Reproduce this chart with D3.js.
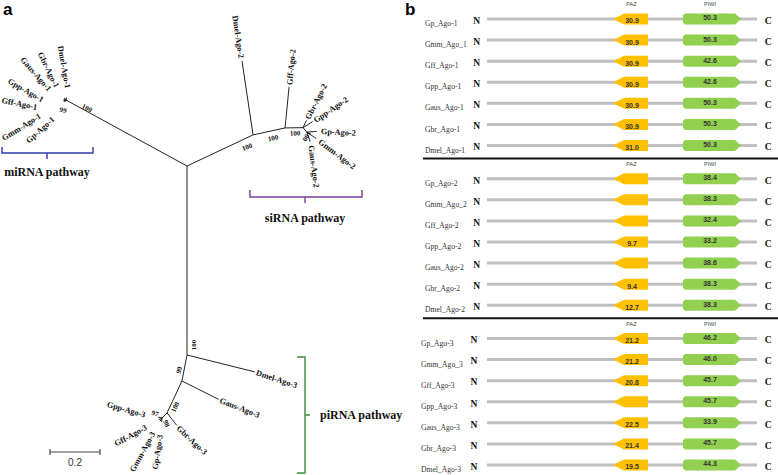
<!DOCTYPE html>
<html>
<head>
<meta charset="utf-8">
<script src="https://cdn.jsdelivr.net/npm/d3@7"></script>
<style>body{margin:0;background:#fff}</style>
</head>
<body>
<div id="fig"></div>
<script>
const W = 778, H = 475;
const serif = "'Liberation Serif', 'DejaVu Serif', serif";
const sans = "'Liberation Sans', Arial, sans-serif";

// ---------- panel a : tree data ----------
// [node, parent, branch length]
const branches = [
  ["mi", "root", 0.551],
  ["Dmel-Ago-1", "mi", 0.01],
  ["Gbr-Ago-1", "mi", 0.01],
  ["Gaus-Ago-1", "mi", 0.01],
  ["Gpp-Ago-1", "mi", 0.01],
  ["Gff-Ago-1", "mi", 0.01],
  ["Gmm-Ago-1", "mi", 0.01],
  ["Gp-Ago-1", "mi", 0.01],
  ["s1", "root", 0.292],
  ["Dmel-Ago-2", "s1", 0.299],
  ["s2", "s1", 0.131],
  ["Gff-Ago-2", "s2", 0.165],
  ["s3", "s2", 0.072],
  ["Gbr-Ago-2", "s3", 0.032],
  ["Gpp-Ago-2", "s3", 0.045],
  ["s4", "s3", 0.024],
  ["Gp-Ago-2", "s4", 0.04],
  ["Gmm-Ago-2", "s4", 0.045],
  ["Gaus-Ago-2", "s4", 0.04],
  ["p1", "root", 0.756],
  ["Dmel-Ago-3", "p1", 0.28],
  ["p2", "p1", 0.106],
  ["Gaus-Ago-3", "p2", 0.164],
  ["p3", "p2", 0.141],
  ["Gbr-Ago-3", "p3", 0.063],
  ["p4", "p3", 0.028],
  ["Gpp-Ago-3", "p4", 0.016],
  ["Gff-Ago-3", "p4", 0.016],
  ["Gmm-Ago-3", "p4", 0.016],
  ["Gp-Ago-3", "p4", 0.016]
];
const bootNodes  = ["mi", "mi", "s1", "s2", "s3", "s4", "p1", "p2", "p3", "p4", "p4"];
const bootValues = [99, 100, 100, 100, 100, 100, 100, 99, 100, 98, 97];
const pathways = ["miRNA pathway", "siRNA pathway", "piRNA pathway"];
const scaleBarValue = 0.2;

// ---------- panel b : domain data ----------
const ago1Names = ["Gp_Ago-1", "Gmm_Ago_1", "Gff_Ago-1", "Gpp_Ago-1", "Gaus_Ago-1", "Gbr_Ago-1", "Dmel_Ago-1"];
const ago1Paz   = [30.9, 30.9, 30.9, 30.9, 30.9, 30.9, 31.0];
const ago1Piwi  = [50.3, 50.3, 42.6, 42.6, 50.3, 50.3, 50.3];
const ago2Names = ["Gp_Ago-2", "Gmm_Ago_2", "Gff_Ago-2", "Gpp_Ago-2", "Gaus_Ago-2", "Gbr_Ago-2", "Dmel_Ago-2"];
const ago2Paz   = [null, null, null, 9.7, null, 9.4, 12.7];
const ago2Piwi  = [38.4, 38.3, 32.4, 33.2, 38.6, 38.3, 38.3];
const ago3Names = ["Gp_Ago-3", "Gmm_Ago_3", "Gff_Ago-3", "Gpp_Ago-3", "Gaus_Ago-3", "Gbr_Ago-3", "Dmel_Ago-3"];
const ago3Paz   = [21.2, 21.2, 20.8, null, 22.5, 21.4, 19.5];
const ago3Piwi  = [46.2, 46.0, 45.7, 45.7, 33.9, 45.7, 44.3];

// ---------- layout ----------
const root = [187, 166];
const angle = {
  mi: 208.6, "Dmel-Ago-1": -80.5, "Gbr-Ago-1": -124.7, "Gaus-Ago-1": -148, "Gpp-Ago-1": 180,
  "Gff-Ago-1": 166.4, "Gmm-Ago-1": 150, "Gp-Ago-1": 125.8,
  s1: -25.2, "Dmel-Ago-2": -98.5, s2: -12.3, "Gff-Ago-2": -84.4, s3: -1,
  "Gbr-Ago-2": -65, "Gpp-Ago-2": -32, s4: 50, "Gp-Ago-2": -5, "Gmm-Ago-2": 34, "Gaus-Ago-2": 71,
  p1: 90, "Dmel-Ago-3": 14, p2: 101, "Gaus-Ago-3": 26.6, p3: 115, "Gbr-Ago-3": 52, p4: 135,
  "Gpp-Ago-3": 190, "Gff-Ago-3": 151, "Gmm-Ago-3": 122, "Gp-Ago-3": 97
};
// leaf label: [gap from tip, text rotation]
const leafLabel = {
  "Dmel-Ago-1": [9.7, 80], "Gbr-Ago-1": [13.3, 64], "Gaus-Ago-1": [16.4, 49], "Gpp-Ago-1": [20.5, 30],
  "Gff-Ago-1": [27.3, 11], "Gmm-Ago-1": [27.5, -32], "Gp-Ago-1": [19.7, -42],
  "Dmel-Ago-2": [3, 81.5], "Gff-Ago-2": [2, -84.4], "Gbr-Ago-2": [2, -63], "Gpp-Ago-2": [2, -34],
  "Gp-Ago-2": [4, 3], "Gmm-Ago-2": [4, 37], "Gaus-Ago-2": [4, 83],
  "Dmel-Ago-3": [1.5, 18], "Gaus-Ago-3": [1.5, 21], "Gbr-Ago-3": [2, 43],
  "Gpp-Ago-3": [13, 16], "Gff-Ago-3": [14, -29], "Gmm-Ago-3": [13, -61], "Gp-Ago-3": [13, -81]
};
const bootPos = [[-3, 10, 10], [21, 8, 28], [-6, 12, -20], [-12, 10, -12], [-8, 5.5, -3], [0, 4, 120],
  [7, -10, -90], [-3, -11, -75], [8, -6, -65], [4.5, 5.5, 65], [-7, -4.5, 20]];

const svg = d3.select("#fig").append("svg")
  .attr("width", W).attr("height", H)
  .style("background-color", "white");

svg.append("text").attr("x", 3).attr("y", 15).text("a")
  .style("font-family", sans).style("font-weight", "bold").style("font-size", "17px");
svg.append("text").attr("x", 405).attr("y", 15).text("b")
  .style("font-family", sans).style("font-weight", "bold").style("font-size", "17px");

// branch length -> px
const bl = d3.scaleLinear().domain([0, 0.2]).range([0, 50]);
const rad = d => d * Math.PI / 180;

const pos = { root: root };
branches.forEach(([n, p, l]) => {
  const a = rad(angle[n]), r = bl(l);
  pos[n] = [pos[p][0] + r * Math.cos(a), pos[p][1] + r * Math.sin(a)];
});
const isLeaf = n => !branches.some(b => b[1] === n);

const tree = svg.append("g");
tree.selectAll("line.branch")
  .data(branches)
  .enter()
  .append("line")
    .attr("x1", d => pos[d[1]][0]).attr("y1", d => pos[d[1]][1])
    .attr("x2", d => pos[d[0]][0]).attr("y2", d => pos[d[0]][1])
    .attr("stroke", "#222").attr("stroke-width", 1);

tree.selectAll("text.leaf")
  .data(branches.filter(b => isLeaf(b[0])))
  .enter()
  .append("text")
    .attr("transform", d => {
      const [g, r] = leafLabel[d[0]], a = rad(angle[d[0]]);
      const x = pos[d[0]][0] + g * Math.cos(a), y = pos[d[0]][1] + g * Math.sin(a);
      return "translate(" + x + "," + y + ") rotate(" + r + ")";
    })
    // flipped labels read toward the tip
    .attr("text-anchor", d => Math.cos(rad(angle[d[0]] - leafLabel[d[0]][1])) < 0 ? "end" : "start")
    .attr("dy", "0.35em")
    .style("font-family", serif).style("font-weight", "bold").style("font-size", "8.3px")
    .style("fill", "#111")
    .text(d => d[0]);

tree.selectAll("text.boot")
  .data(bootValues)
  .enter()
  .append("text")
    .attr("transform", (d, i) => {
      const p = pos[bootNodes[i]], o = bootPos[i];
      return "translate(" + (p[0] + o[0]) + "," + (p[1] + o[1]) + ") rotate(" + o[2] + ")";
    })
    .attr("text-anchor", "middle").attr("dy", "0.35em")
    .style("font-family", serif).style("font-weight", "bold").style("font-size", "7px")
    .style("fill", "#111")
    .text(d => d);

// pathway brackets
const brackets = [
  { c: "#2f3ab0", d: "M2,147V153H93V147M47,153V159", tx: 47, ty: 176, anchor: "middle" },
  { c: "#7a3c9e", d: "M250,190V197H362V190M305,197V203", tx: 305, ty: 222, anchor: "middle" },
  { c: "#3d8b3d", d: "M297,357H305V473H297M305,415H310", tx: 320, ty: 419, anchor: "start" }
];
brackets.forEach((b, i) => {
  svg.append("path").attr("d", b.d).attr("fill", "none")
    .attr("stroke", b.c).attr("stroke-width", 1.4);
  svg.append("text").attr("x", b.tx).attr("y", b.ty).attr("text-anchor", b.anchor)
    .style("font-family", serif).style("font-weight", "bold").style("font-size", "12px")
    .style("fill", "#111").text(pathways[i]);
});

// scale bar
const sb = svg.append("g").attr("stroke", "#444").attr("stroke-width", 1.2);
sb.append("line").attr("x1", 50).attr("x2", 50 + bl(scaleBarValue)).attr("y1", 452).attr("y2", 452);
sb.append("line").attr("x1", 50).attr("x2", 50).attr("y1", 449).attr("y2", 455);
sb.append("line").attr("x1", 50 + bl(scaleBarValue)).attr("x2", 50 + bl(scaleBarValue)).attr("y1", 449).attr("y2", 455);
svg.append("text").attr("x", 50 + bl(scaleBarValue) / 2).attr("y", 466).attr("text-anchor", "middle")
  .style("font-family", sans).style("font-size", "10px").style("fill", "#333").text(scaleBarValue);

// ---------- panel b ----------
const groups = [[ago1Names, ago1Paz, ago1Piwi], [ago2Names, ago2Paz, ago2Piwi], [ago3Names, ago3Paz, ago3Piwi]];
const gy = d3.scaleLinear().domain([0, 2]).range([19, 338.5]);
const ry = d3.scaleLinear().domain([0, 6]).range([0, 126.5]);
const px = d3.scaleLinear().domain([0, 100]).range([487, 757]);
const pazSpan = [46.7, 59.6], piwiSpan = [72.6, 94.1];
const labelShift = [0, 0, -4];

const pazShape = (x0, x1, c) => [[x0, c], [x0 + 11, c - 5.5], [x1, c - 5.5], [x1, c + 5.5], [x0 + 11, c + 5.5]];
const piwiShape = (x0, x1, c) => [[x0 + 2, c - 5.5], [x1 - 6, c - 5.5], [x1, c], [x1 - 6, c + 5.5], [x0 + 2, c + 5.5], [x0, c + 3.5], [x0, c - 3.5]];

groups.forEach(([names, paz, piwi], gi) => {
  const g = svg.append("g");
  const y0 = gy(gi);
  if (gi > 0) {
    g.append("line").attr("x1", 423).attr("x2", 778).attr("y1", y0 - 20.3).attr("y2", y0 - 20.3)
      .attr("stroke", "#111").attr("stroke-width", 2);
  }
  g.append("text").attr("x", px(d3.mean(pazSpan)) + 1).attr("y", y0 - 13).attr("text-anchor", "middle")
    .style("font-family", sans).style("font-size", "5.5px").style("fill", "#444").text("PAZ");
  g.append("text").attr("x", px(d3.mean(piwiSpan)) - 2).attr("y", y0 - 13).attr("text-anchor", "middle")
    .style("font-family", sans).style("font-size", "5.5px").style("fill", "#444").text("PIWI");

  const rows = g.selectAll("g.row")
    .data(names.map((n, i) => ({ name: n, paz: paz[i], piwi: piwi[i], i: i })))
    .enter()
    .append("g")
      .attr("transform", d => "translate(0," + (y0 + ry(d.i)) + ")");

  rows.append("text").attr("x", 425 + labelShift[gi]).attr("y", 4.5).attr("dy", "0.35em")
    .style("font-family", serif).style("font-size", "7.6px").style("fill", "#333")
    .text(d => d.name);
  rows.append("text").attr("x", 476.7 + labelShift[gi] * 0.7).attr("y", 1.5).attr("dy", "0.35em")
    .attr("text-anchor", "middle")
    .style("font-family", serif).style("font-weight", "bold").style("font-size", "9.5px").style("fill", "#111")
    .text("N");
  rows.append("text").attr("x", 768.3).attr("y", 1.5).attr("dy", "0.35em").attr("text-anchor", "middle")
    .style("font-family", serif).style("font-weight", "bold").style("font-size", "9.5px").style("fill", "#111")
    .text("C");
  rows.append("line").attr("x1", px(0)).attr("x2", px(100)).attr("y1", 0).attr("y2", 0)
    .attr("stroke", "#bfbfbf").attr("stroke-width", 3);
  rows.append("polygon")
    .attr("points", pazShape(px(pazSpan[0]), px(pazSpan[1]), 0).join(" "))
    .attr("fill", "#ffc000");
  rows.append("polygon")
    .attr("points", piwiShape(px(piwiSpan[0]), px(piwiSpan[1]), 0).join(" "))
    .attr("fill", "#92d050");
  rows.filter(d => d.paz != null).append("text")
    .attr("x", px(d3.mean(pazSpan)) + 1.5).attr("y", 2).attr("dy", "0.35em").attr("text-anchor", "middle")
    .style("font-family", sans).style("font-weight", "bold").style("font-size", "7px").style("fill", "#333")
    .text(d => d.paz.toFixed(1));
  rows.append("text")
    .attr("x", px(d3.mean(piwiSpan)) - 2).attr("y", -1).attr("dy", "0.35em").attr("text-anchor", "middle")
    .style("font-family", sans).style("font-weight", "bold").style("font-size", "7px").style("fill", "#333")
    .text(d => d.piwi.toFixed(1));
});
</script>
</body>
</html>
